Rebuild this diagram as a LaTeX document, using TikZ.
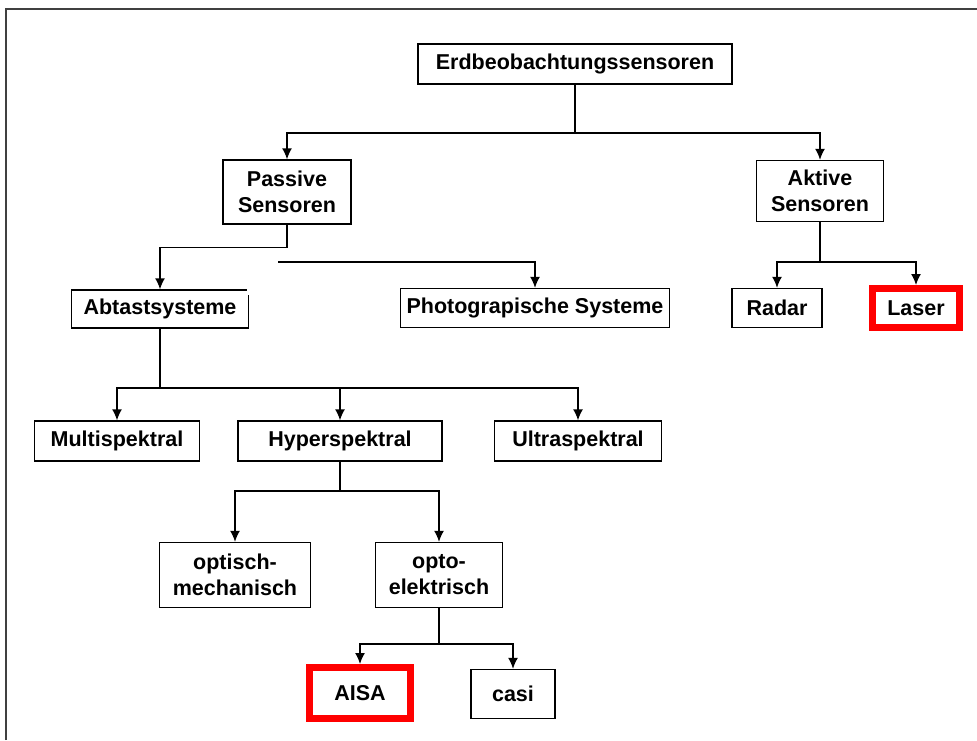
\documentclass[tikz,border=0pt]{standalone}
\usepackage{fontspec}
\setmainfont{Liberation Sans}
\usepackage{xcolor}
\usepackage{tikz}
\usetikzlibrary{arrows.meta}

\begin{document}
\begin{tikzpicture}[x=1pt,y=-1pt,
	box/.style={draw, line width=1.4pt, inner sep=0pt, align=center,
		font=\fontsize{21.5}{26}\selectfont\bfseries},
	hot/.style={box, draw=red, line width=7pt},
	link/.style={line width=1.4pt},
	arr/.style={link, -{Latex[length=11pt,width=10pt]}}]
	\useasboundingbox (0,0) rectangle (977,740);
	\draw[line width=2.5pt, black!75] (6,740) -- (6,9) -- (977,9);

	\node[box, minimum width=314, minimum height=40] (erd) at (575,64) {Erdbeobachtungssensoren};
	\node[box, minimum width=128, minimum height=64] (pas) at (287,192) {Passive\\Sensoren};
	\node[box, minimum width=127, minimum height=61] (akt) at (820,191) {Aktive\\Sensoren};

	\node[box, minimum width=177, minimum height=38] (abt) at (160,309) {Abtastsysteme};
	\node[box, minimum width=269, minimum height=39] (pho) at (535,308) {Photograpische Systeme};
	\node[box, minimum width=90, minimum height=39] (rad) at (777,308) {Radar};
	\node[hot, minimum width=87, minimum height=39] (las) at (916,308) {Laser};

	\node[box, minimum width=165, minimum height=40] (mul) at (117,441) {Multispektral};
	\node[box, minimum width=204, minimum height=40] (hyp) at (340,441) {Hyperspektral};
	\node[box, minimum width=167, minimum height=40] (ult) at (578,441) {Ultraspektral};

	\node[box, minimum width=151, minimum height=65] (ome) at (235,575) {optisch-\\mechanisch};
	\node[box, minimum width=127, minimum height=65] (oel) at (439,575) {opto-\\elektrisch};

	\node[hot, minimum width=101, minimum height=51] (ais) at (360,693) {AISA};
	\node[box, minimum width=84, minimum height=49] (cas) at (513,694) {casi};

	% white patch over the corner of the Abtast box
	\fill[white] (247,268) rectangle (273,295);

	\coordinate (j1) at (575,133);
	\draw[link] (erd) -- (j1);
	\draw[arr] (j1) -| (pas);
	\draw[arr] (j1) -| (akt);

	\draw[arr] (pas.south) -- ++(0,23) -| (abt);
	\coordinate (ps) at (278,262);
	\draw[arr] (ps) -| (pho);

	\coordinate (j2) at (820,262);
	\draw[link] (akt) -- (j2);
	\draw[arr] (j2) -| (rad);
	\draw[arr] (j2) -| (las);

	\coordinate (j3) at (160,388);
	\draw[link] (abt) -- (j3);
	\draw[arr] (j3) -| (mul);
	\draw[arr] (j3) -| (hyp);
	\draw[arr] (j3) -| (ult);

	\coordinate (j4) at (340,491);
	\draw[link] (hyp) -- (j4);
	\draw[arr] (j4) -| (ome);
	\draw[arr] (j4) -| (oel);

	\coordinate (j5) at (439,644);
	\draw[link] (oel) -- (j5);
	\draw[arr] (j5) -| (ais);
	\draw[arr] (j5) -| (cas);

\end{tikzpicture}
\end{document}
